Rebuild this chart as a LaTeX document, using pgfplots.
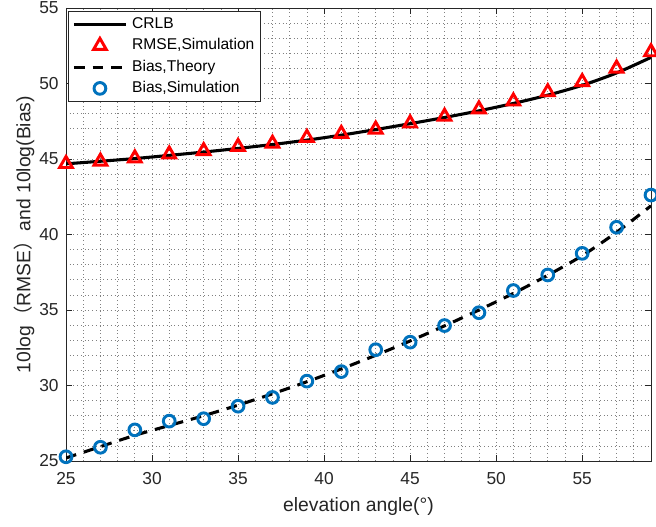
\documentclass[border=0pt]{standalone}
\usepackage{pgfplots}
\pgfplotsset{compat=1.18}
\usepackage{fontspec}
\setmainfont{Liberation Sans}
\newfontfamily\cjk{Noto Sans CJK SC}
\definecolor{mblue}{rgb}{0,0.447,0.741}
\definecolor{axgray}{rgb}{0.15,0.15,0.15}
\pgfplotsset{
  lineleg/.style={legend image code/.code={\draw[##1] (0pt,0pt) -- (39pt,0pt);}},
  markleg/.style={legend image code/.code={\path[draw=none,fill=none] (0pt,0pt) -- (39pt,0pt);\draw[##1] plot coordinates {(19.5pt,0pt)};}},
}
\begin{document}
\begin{tikzpicture}
\begin{axis}[
  scale only axis, width=438.75pt, height=339.75pt,
  xmin=25, xmax=59, ymin=25, ymax=55,
  xtick={25,30,...,55}, ytick={25,30,...,55},
  minor xtick={25,...,59}, minor ytick={25,...,55},
  grid=both,
  major grid style={black!50, dash pattern=on 0.5pt off 2.3pt, line width=0.5pt},
  minor grid style={black!50, dash pattern=on 0.5pt off 2.3pt, line width=0.5pt},
  tick align=inside, major tick length=4.5pt, minor tick length=0pt,
  axis line style={axgray, line width=0.6pt},
  tick style={axgray, line width=0.6pt},
  ticklabel style={font=\fontsize{13}{15}\selectfont, text=axgray},
  xticklabel style={anchor=north, yshift=-5pt},
  yticklabel style={anchor=east, xshift=-2pt},
  /pgf/number format/assume math mode=true,
  xlabel={elevation angle(°)},
  ylabel={10log{\cjk （}RMSE{\cjk ）}and 10log(Bias)},
  label style={font=\fontsize{14.5}{16}\selectfont, text=axgray},
  xlabel style={at={(axis description cs:0.5,0)}, anchor=center, yshift=-34.5pt},
  ylabel style={at={(axis description cs:0,0.5)}, anchor=center, yshift=31.5pt},
  legend style={at={(rel axis cs:0,1)}, anchor=north west, xshift=1.5pt, yshift=-2.25pt,
    draw=black!85, line width=0.6pt, font=\fontsize{11.7}{13}\selectfont,
    inner xsep=3pt, inner ysep=2.75pt, row sep=2pt, column sep=2pt,
    nodes={inner sep=1.5pt, text height=8.5pt, text depth=2.5pt}},
  legend cell align=left,
]
\coordinate (bl) at (rel axis cs:0,0);
\coordinate (tr) at (rel axis cs:1,1);
\addplot[black, line width=2.3pt, smooth, lineleg] coordinates {
(25,44.68) (27,44.85) (29,45.03) (31,45.24) (33,45.46) (35,45.70) (37,45.96) (39,46.25) (41,46.58)
(43,46.95) (45,47.34) (47,47.75) (49,48.19) (51,48.68) (53,49.23) (55,49.88) (57,50.70) (59,51.73)};
\addlegendentry{CRLB}
\addplot[only marks, red, mark=triangle, mark size=5.5pt, line width=2.2pt, markleg] coordinates {
(25,44.68) (27,44.84) (29,45.05) (31,45.31) (33,45.53) (35,45.81) (37,46.02) (39,46.41) (41,46.67)
(43,46.96) (45,47.36) (47,47.81) (49,48.30) (51,48.82) (53,49.43) (55,50.10) (57,51.00) (59,52.08)};
\addlegendentry{RMSE,Simulation}
\addplot[black, line width=2.3pt, dash pattern=on 8pt off 6pt, smooth, lineleg] coordinates {
(25,25.2) (27,25.95) (29,26.7) (31,27.35) (33,28.0) (35,28.7) (37,29.45) (39,30.25) (41,31.1)
(43,32.0) (45,32.95) (47,33.95) (49,35.0) (51,36.1) (53,37.3) (55,38.6) (57,40.15) (59,41.9)};
\addlegendentry{Bias,Theory}
\addplot[only marks, mblue, mark=o, mark size=4.4pt, line width=2.2pt, markleg] coordinates {
(25,25.28) (27,25.91) (29,27.06) (31,27.64) (33,27.80) (35,28.63) (37,29.21) (39,30.29) (41,30.92)
(43,32.37) (45,32.87) (47,33.97) (49,34.82) (51,36.29) (53,37.32) (55,38.75) (57,40.48) (59,42.61)};
\addlegendentry{Bias,Simulation}
\end{axis}
\pgfresetboundingbox
\path ([shift={(-49.5pt,-49.5pt)}]bl) rectangle ([shift={(3.75pt,6pt)}]tr);
\end{tikzpicture}
\end{document}
